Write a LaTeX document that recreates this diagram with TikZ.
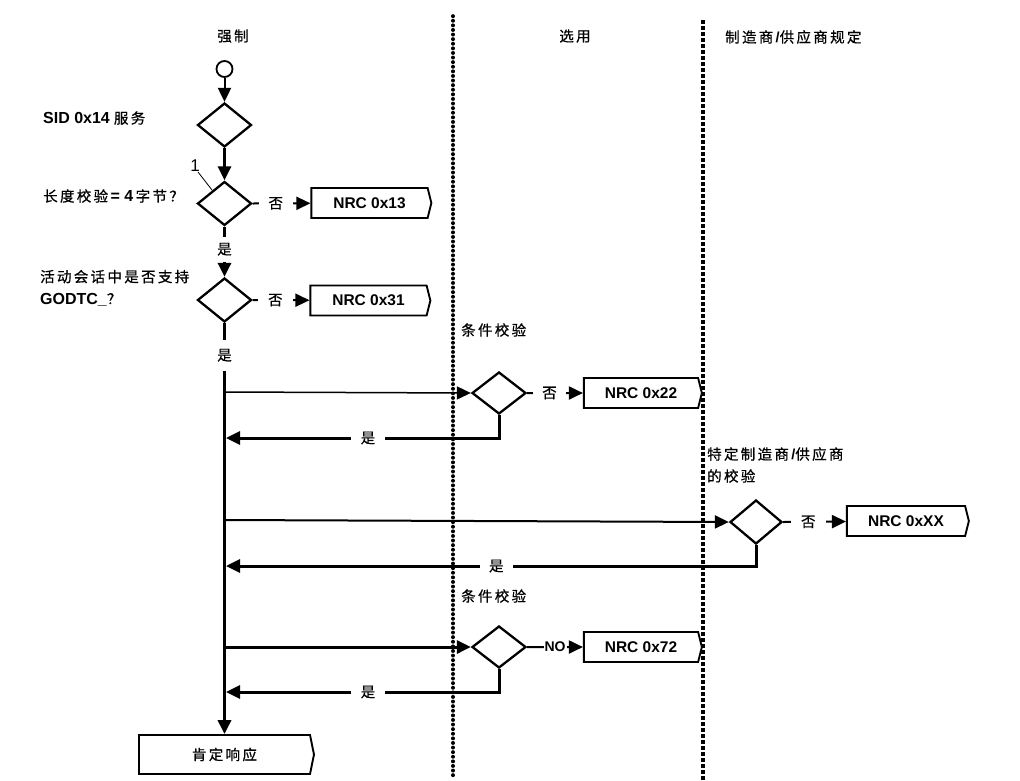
\documentclass[tikz,border=0pt]{standalone}
\usepackage{fontspec}
\setmainfont{Liberation Sans}
\newfontfamily\cjk[LetterSpace=16,FakeBold=0.6]{Noto Sans CJK SC}
\usetikzlibrary{shapes.geometric,shapes.symbols,arrows.meta}
\newcommand\zh[1]{{\mdseries\cjk #1}}
\newcommand\lb[1]{{\bfseries\fontsize{16}{18}\selectfont #1}}
\begin{document}
\begin{tikzpicture}[x=1pt,y=-1pt,
  dec/.style={diamond, draw, line width=2.3pt, minimum width=54pt, minimum height=44pt, inner sep=0pt},
  nrc/.style={signal, signal to=east, signal pointer angle=152, draw, line width=1.9pt,
     minimum width=120pt, minimum height=30pt, inner sep=0pt, font=\bfseries\fontsize{15.5}{17}\selectfont},
  lbl/.style={font=\fontsize{14.5}{17}\selectfont, inner sep=0pt},
  tag/.style={font=\fontsize{14.5}{17}\selectfont, fill=white, inner sep=2pt},
  tip/.style={-{Triangle[length=14pt,width=13pt]}},
  flow/.style={line width=3pt, tip},
  lane/.style={line width=3.6pt, line cap=round, dash pattern=on 0.3pt off 4.3pt}]
\useasboundingbox (0,0) rectangle (1020,780);
\fill[white] (0,0) rectangle (1020,780);

% lane dividers and headers
\draw[lane] (453,16) -- (453,778);
\draw[line width=3.2pt, dash pattern=on 4pt off 2pt] (703,20) -- (703,780);
\node[lbl] (h1) at (233,36) {\zh{强制}};
\node[lbl] (h2) at (575,36) {\zh{选用}};
\node[lbl, anchor=west] (h3) at (725,37) {\zh{制造商}\textbf{/}\zh{供应商规定}};

% left labels
\node[lbl, anchor=west] (t1) at (43,118) {\lb{SID 0x14} \zh{服务}};
\node[lbl, anchor=west] (t2) at (43,196) {\zh{长度校验}\,\lb{= 4}\,\zh{字节？}};
\node[lbl, anchor=west, align=left] (t3) at (40,288) {\zh{活动会话中是否支持}\\[5pt]\lb{GODTC\_}\zh{？}};

% main column
\node[circle, draw, line width=1.8pt, minimum size=16pt, inner sep=0pt] (start) at (224.5,69) {};
\node[dec] (d1) at (224.5,125) {};
\node[dec] (d2) at (224.5,203.5) {};
\node[dec] (d3) at (224.5,300) {};
\node[nrc] (n13) at (369.5,203) {NRC 0x13};
\node[nrc] (n31) at (368.5,300.5) {NRC 0x31};
\node[signal, signal to=east, signal pointer angle=157, draw, line width=1.9pt,
  minimum width=175pt, minimum height=39pt, inner sep=0pt,
  font=\fontsize{14.5}{17}\selectfont] (fin) at (224.5,754.5) {\zh{肯定响应}};

\coordinate (one) at (198,172);
\node[font=\fontsize{17}{18}\selectfont, inner sep=0pt] (onel) at (195,166) {1};
\draw[line width=0.8pt] (one) -- (212,190);

\draw[line width=2pt, tip] (start) -- (d1);
\draw[flow] (d1) -- (d2);
\draw[flow] (d2) -- node[tag, inner ysep=6pt, pos=0.45]{\zh{是}} (d3);
\draw[line width=2pt, tip] (d2.east) -- node[tag, inner xsep=10pt, pos=0.4]{\zh{否}} (n13);
\draw[line width=2pt, tip] (d3.east) -- node[tag, inner xsep=10pt, pos=0.4]{\zh{否}} (n31);
\draw[flow, line width=3.4pt] (d3.south) -- node[tag, inner ysep=9pt, pos=0.078]{\zh{是}} (fin.north);

% branch coordinates on main line
\coordinate (b1) at (224.5,392);
\coordinate (b2) at (224.5,520);
\coordinate (b3) at (224.5,647);
\coordinate (r1) at (226,438);
\coordinate (r2) at (226,566);
\coordinate (r3) at (226,692);

% branch 1
\node[lbl, anchor=west] (c1) at (461,330) {\zh{条件校验}};
\node[dec, minimum height=42pt] (d4) at (499,393) {};
\node[nrc, minimum width=118pt] (n22) at (641,393) {NRC 0x22};
\draw[line width=1.5pt, tip] (b1) -- (d4.west);
\draw[line width=2pt, tip] (d4.east) -- node[tag, inner xsep=9pt, pos=0.4]{\zh{否}} (n22);
\draw[flow] (d4.south) |- node[tag, inner xsep=10pt, pos=0.74]{\zh{是}} (r1);

% branch 2
\node[lbl, anchor=west, align=left] (c2) at (707,465) {\zh{特定制造商}\textbf{/}\zh{供应商}\\[5pt]\zh{的校验}};
\node[dec, minimum width=52pt] (d5) at (756,522) {};
\node[nrc, minimum width=122pt] (nxx) at (906,521) {NRC 0xXX};
\draw[line width=2pt, tip] (b2) -- (d5.west);
\draw[line width=2pt, tip] (d5.east) -- node[tag, inner xsep=10pt, pos=0.4]{\zh{否}} (nxx);
\draw[flow] (d5.south) |- node[tag, inner xsep=9pt, pos=0.745]{\zh{是}} (r2);

% branch 3
\node[lbl, anchor=west] (c3) at (461,596) {\zh{条件校验}};
\node[dec, minimum height=42pt] (d6) at (499,647) {};
\node[nrc, minimum width=118pt] (n72) at (641,647) {NRC 0x72};
\draw[flow] (b3) -- (d6.west);
\draw[line width=2pt, tip] (d6.east) -- node[fill=white, inner sep=1pt, font=\bfseries\fontsize{14}{15}\selectfont, pos=0.5]{NO} (n72);
\draw[flow] (d6.south) |- node[tag, inner xsep=10pt, pos=0.74]{\zh{是}} (r3);
\end{tikzpicture}
\end{document}
